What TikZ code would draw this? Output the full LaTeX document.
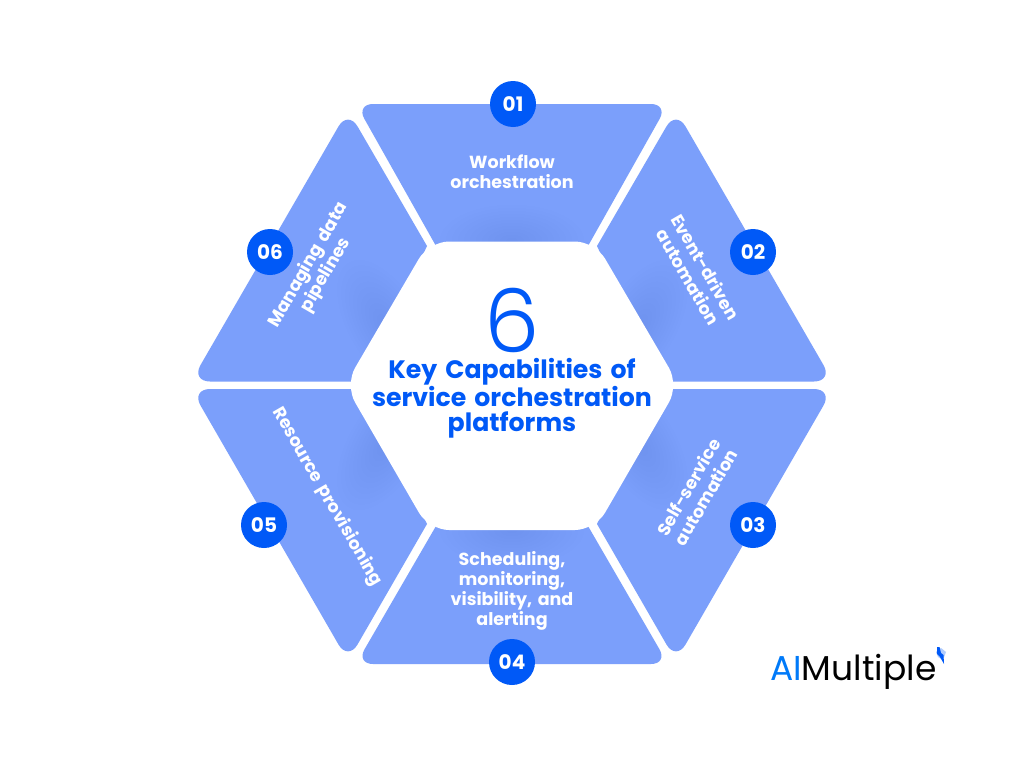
\documentclass[tikz,border=0pt]{standalone}
\usepackage{fontspec}
\setmainfont[WordSpace=1.5]{Poppins}
\newfontfamily\logofont{Poppins}
\newfontfamily\sixfont[UprightFont=*-Light]{Poppins}
\usetikzlibrary{calc}
\definecolor{panel}{HTML}{7B9FFB}
\definecolor{panelshade}{HTML}{4F6CC4}
\definecolor{deep}{HTML}{0059F7}
\tikzset{
  x=1pt,y=-1pt,
  seg/.style={fill=panel},
  badge/.style={circle,fill=deep,text=white,minimum size=46pt,inner sep=0pt,font=\fontsize{20}{20}\selectfont\bfseries},
  seglabel/.style={text=white,align=center,inner sep=0pt,font=\fontsize{17.5}{20}\selectfont\bfseries},
  hub/.style={fill=white,rounded corners=20pt},
}
\newcommand{\softspot}[3]{%
  \foreach \k in {1,...,12}{\fill[panelshade,opacity=.011,rotate around={#3:(#1,#2)}] (#1,#2) ellipse[x radius={\k*6pt},y radius={\k*3pt}];}}
\begin{document}
\begin{tikzpicture}
\useasboundingbox (0,0) rectangle (1024,768);
\fill[white] (0,0) rectangle (1024,768);
% segments: outer corners rounded, inner corners sharp
\def\sOne{(436,246) [rounded corners=17pt] -- (356,104) -- (668,104) [sharp corners] -- (588,246) -- cycle}
\def\sTwo{(597,246) [rounded corners=19pt] -- (676,110) -- (833,381.5) [sharp corners] -- (660,381.5) -- cycle}
\def\sThree{(660,389) [rounded corners=19pt] -- (833,389) -- (676,661) [sharp corners] -- (597,524) -- cycle}
\def\sFour{(588,526) [rounded corners=17pt] -- (668,664) -- (356,664) [sharp corners] -- (436,526) -- cycle}
\def\sFive{(427,524) [rounded corners=19pt] -- (348,661) -- (191,389) [sharp corners] -- (364,389) -- cycle}
\def\sSix{(364,381.5) [rounded corners=19pt] -- (191,381.5) -- (348,110) [sharp corners] -- (427,246) -- cycle}
\fill[seg] \sOne;
\fill[seg] \sTwo;
\fill[seg] \sThree;
\fill[seg] \sFour;
\fill[seg] \sFive;
\fill[seg] \sSix;
\begin{scope}\clip \sOne; \softspot{512}{241}{0}\end{scope}
\begin{scope}\clip \sTwo; \softspot{640}{325}{60}\end{scope}
\begin{scope}\clip \sThree; \softspot{640}{445}{-60}\end{scope}
\begin{scope}\clip \sFour; \softspot{512}{530}{0}\end{scope}
\begin{scope}\clip \sFive; \softspot{385}{445}{60}\end{scope}
\begin{scope}\clip \sSix; \softspot{385}{325}{-60}\end{scope}
% hub
\fill[hub] (345,385) -- (429,241.5) -- (595,241.5) -- (679,385) -- (595,530) -- (429,530) -- cycle;
% badges
\node[badge] (b1) at (513,104) {01};
\node[badge] (b2) at (753,252) {02};
\node[badge] (b3) at (753,525) {03};
\node[badge] (b4) at (512,662) {04};
\node[badge] (b5) at (264,525) {05};
\node[badge] (b6) at (270,252) {06};
% labels
\node[seglabel] (l1) at (512,172) {Workflow\\orchestration};
\node[seglabel,rotate=-60] (l2) at (697,272) {Event-driven\\automation};
\node[seglabel,rotate=60] (l3) at (697,492) {Self-service\\automation};
\node[seglabel] (l4) at (512,591) {Scheduling,\\monitoring,\\visibility, and\\alerting};
\node[seglabel,rotate=-60] (l5) at (327,497) {Resource provisioning};
\node[seglabel,rotate=60] (l6) at (317,270) {Managing data\\pipelines};
% centre
\node[text=deep,inner sep=0pt] (six) at (512,320) {\fontsize{88}{88}\selectfont\sixfont 6};
\node[text=deep,align=center,inner sep=0pt,font=\fontsize{25.2}{25.5}\selectfont\bfseries] (title) at (512,398.5) {Key Capabilities of\\service orchestration\\platforms};
% logo
\node[anchor=base west,inner sep=0pt] (logo) at (770,680) {\fontsize{34.5}{34.5}\selectfont\logofont\textcolor{deep!80!cyan}{AI}\textcolor{black}{Multiple}};
\fill[deep!30!white] (936,652) -- (941,648) -- (946,652) -- (943,660) -- (938,657) -- cycle;
\fill[deep] (937,647) -- (939.5,647) -- (941,653) -- (943.5,655) -- (944,664) -- (940,657) -- (937,654) -- cycle;
\end{tikzpicture}
\end{document}
